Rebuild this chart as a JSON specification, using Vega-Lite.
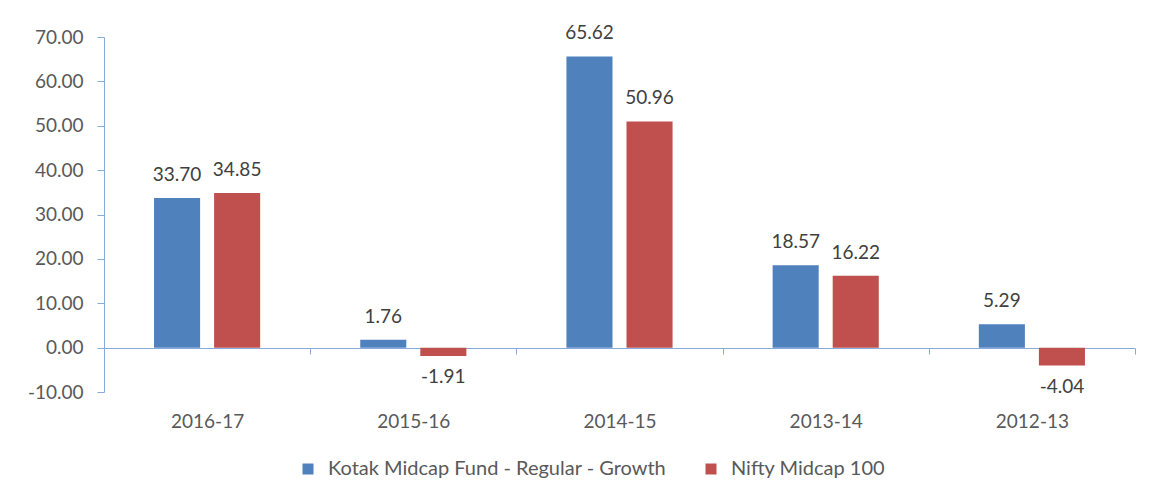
{
  "$schema": "https://vega.github.io/schema/vega-lite/v6.json",
  "autosize": {"type": "none"},
  "width": 1031,
  "height": 355,
  "padding": {"left": 104, "top": 37, "right": 14, "bottom": 107},
  "background": "white",
  "config": {
    "locale": {"number": {"decimal": ".", "thousands": ",", "grouping": [3], "currency": ["$", ""], "minus": "-"}},
    "view": {"stroke": null},
    "font": "Lato",
    "axis": {"labelFont": "Lato", "labelColor": "#595959", "labelFontSize": 19, "domainColor": "#86AADB", "tickColor": "#86AADB", "grid": false, "title": null}
  },
  "data": {
    "values": [
      {"year": "2016-17", "series": "Kotak Midcap Fund - Regular - Growth", "value": 33.70},
      {"year": "2016-17", "series": "Nifty Midcap 100", "value": 34.85},
      {"year": "2015-16", "series": "Kotak Midcap Fund - Regular - Growth", "value": 1.76},
      {"year": "2015-16", "series": "Nifty Midcap 100", "value": -1.91},
      {"year": "2014-15", "series": "Kotak Midcap Fund - Regular - Growth", "value": 65.62},
      {"year": "2014-15", "series": "Nifty Midcap 100", "value": 50.96},
      {"year": "2013-14", "series": "Kotak Midcap Fund - Regular - Growth", "value": 18.57},
      {"year": "2013-14", "series": "Nifty Midcap 100", "value": 16.22},
      {"year": "2012-13", "series": "Kotak Midcap Fund - Regular - Growth", "value": 5.29},
      {"year": "2012-13", "series": "Nifty Midcap 100", "value": -4.04}
    ]
  },
  "encoding": {
    "x": {
      "field": "year", "type": "nominal", "sort": null,
      "scale": {"paddingInner": 0, "paddingOuter": 0},
      "axis": {"labelAngle": 0, "offset": -44, "tickBand": "extent", "tickSize": 6, "labelPadding": 58, "domainColor": "#86AADB"}
    },
    "xOffset": {
      "field": "series", "type": "nominal", "sort": null,
      "scale": {"paddingInner": 0.233, "paddingOuter": 0.833}
    },
    "y": {
      "field": "value", "type": "quantitative",
      "scale": {"domain": [-10, 70], "nice": false, "zero": false},
      "axis": {"values": [-10, 0, 10, 20, 30, 40, 50, 60, 70], "format": ".2f", "tickSize": 7, "labelPadding": 14}
    }
  },
  "layer": [
    {
      "mark": {"type": "bar"},
      "encoding": {
        "y2": {"datum": 0},
        "color": {
          "field": "series", "type": "nominal", "sort": null,
          "scale": {"domain": ["Kotak Midcap Fund - Regular - Growth", "Nifty Midcap 100"], "range": ["#4F81BD", "#C0504D"]},
          "legend": {
            "title": null, "orient": "none", "direction": "horizontal",
            "legendX": 194, "legendY": 422,
            "symbolType": "square", "symbolSize": 121, "symbolStrokeWidth": 0,
            "labelFont": "Lato", "labelFontSize": 20, "labelColor": "#595959",
            "labelOffset": 10, "columnPadding": 34, "labelLimit": 500
          }
        }
      }
    },
    {
      "transform": [{"filter": "datum.value >= 0"}],
      "mark": {"type": "text", "baseline": "alphabetic", "dy": -17, "fontSize": 19, "font": "Lato", "color": "#404040"},
      "encoding": {"text": {"field": "value", "type": "quantitative", "format": ".2f"}}
    },
    {
      "transform": [{"filter": "datum.value < 0"}],
      "mark": {"type": "text", "baseline": "alphabetic", "dy": 27, "fontSize": 19, "font": "Lato", "color": "#404040"},
      "encoding": {"text": {"field": "value", "type": "quantitative", "format": ".2f"}}
    }
  ]
}
